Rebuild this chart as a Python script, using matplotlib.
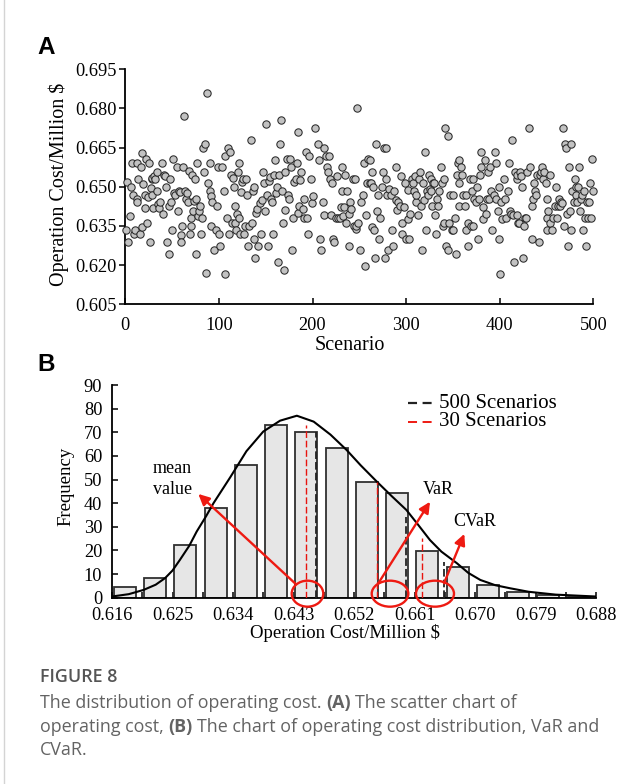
import matplotlib
matplotlib.use('Agg')
import matplotlib.pyplot as plt
from matplotlib.patches import Ellipse
from matplotlib.lines import Line2D

plt.rcParams['font.family'] = ['Liberation Serif', 'DejaVu Serif']
plt.rcParams['lines.scale_dashes'] = False

# ---------------- data: panel A (scenario vs operation cost) ----------------
scenario = [
    2, 6, 1, 3, 5, 7, 8, 9, 10, 12, 12, 13, 14, 16, 17, 18, 18, 19, 21, 21, 22, 23, 24, 25, 26, 27, 28, 28, 29, 30,
    31, 32, 34, 34, 35, 36, 37, 39, 40, 41, 42, 44, 45, 47, 47, 48, 49, 50, 51, 52, 53, 55, 56, 57, 58, 59, 60, 61,
    62, 63, 64, 65, 66, 67, 68, 69, 70, 70, 71, 72, 73, 74, 75, 76, 77, 78, 79, 80, 81, 82, 83, 84, 85, 86, 87, 88,
    90, 91, 92, 92, 93, 95, 97, 98, 99, 100, 101,
    103, 105, 106, 107, 109, 110, 111, 112, 113, 114, 115, 116, 117, 117, 118, 119, 120, 121, 122, 123, 124, 125,
    126, 127, 128, 129, 130, 131, 132, 134, 135, 136, 137, 138, 139, 140, 141, 142, 144, 145, 146, 147, 148, 149,
    150, 151, 152, 153, 155, 156, 157, 158, 159, 160, 161, 162, 163, 164, 165, 166, 167, 169, 170, 171, 171, 173,
    174, 175, 176, 177, 178, 179, 180, 182, 183, 184, 185, 186, 187, 188, 190, 191, 191, 193, 194, 195, 196, 198,
    199, 200, 203,
    206, 207, 208, 209, 211, 212, 212, 214, 216, 217, 218, 219, 220, 221, 222, 223, 225, 226, 227, 229, 230, 231,
    232, 233, 234, 235, 236, 237, 239, 239, 240, 241, 243, 244, 245, 246, 247, 248, 249, 251, 252, 254, 255, 256,
    257, 258, 259, 261, 261, 262, 264, 264, 265, 266, 267, 268, 269, 270, 271, 272, 274, 275, 276, 277, 279, 279,
    280, 281, 282, 284, 285, 286, 287, 289, 289, 290, 291, 293, 295, 296, 296, 298, 299, 300, 302, 302,
    303, 304, 306, 307, 308, 309, 311, 311, 313, 314, 315, 316, 317, 318, 319, 320, 321, 322, 323, 324, 325, 327,
    327, 328, 329, 330, 331, 332, 333, 334, 335, 337, 338, 339, 340, 341, 342, 343, 345, 345, 346, 347, 349, 350,
    350, 352, 353, 354, 355, 356, 357, 357, 359, 360, 361, 363, 364, 364, 366, 366, 368, 369, 370, 371, 372, 373,
    375, 376, 377, 378, 379, 380, 380, 382, 382, 384, 385, 386, 388, 389, 390, 391, 392, 394, 395, 396, 396, 398,
    399, 399, 400, 401, 402,
    405, 406, 407, 409, 410, 411, 412, 413, 414, 415, 416, 418, 419, 419, 420, 421, 422, 423, 424, 425, 426, 427,
    428, 429, 431, 432, 434, 435, 436, 437, 438, 439, 440, 442, 443, 444, 445, 446, 447, 449, 450, 451, 451, 452,
    454, 454, 456, 457, 459, 460, 461, 462, 463, 464, 465, 467, 468, 469, 470, 471, 472, 473, 474, 475, 476, 476,
    477, 479, 480, 481, 482, 483, 484, 485, 486, 487, 488, 489, 490, 491, 492, 493, 494, 495, 496, 498, 499, 500,
]
cost = [
    0.6517, 0.6500, 0.6334, 0.6290, 0.6390, 0.6590, 0.6470, 0.6320, 0.6334, 0.6590, 0.6455, 0.6440, 0.6530, 0.6320,
    0.6577, 0.6630, 0.6347, 0.6510, 0.6470, 0.6420, 0.6606, 0.6360, 0.6460, 0.6590, 0.6290, 0.6497, 0.6530, 0.6470,
    0.6535, 0.6420, 0.6540, 0.6530, 0.6557, 0.6485, 0.6434, 0.6420, 0.6443, 0.6590, 0.6395, 0.6545, 0.6540, 0.6500,
    0.6290, 0.6242, 0.6427, 0.6530, 0.6440, 0.6334, 0.6606, 0.6478, 0.6470, 0.6574, 0.6408, 0.6485, 0.6480, 0.6315,
    0.6290, 0.6348, 0.6574, 0.6770, 0.6485, 0.6453, 0.6478, 0.6440, 0.6561, 0.6320, 0.6348, 0.6380, 0.6545, 0.6408,
    0.6447, 0.6530, 0.6242, 0.6453, 0.6590, 0.6389, 0.6408, 0.6425, 0.6320, 0.6380, 0.6648, 0.6557, 0.6664, 0.6168,
    0.6861, 0.6514, 0.6590, 0.6485, 0.6348, 0.6465, 0.6440, 0.6257, 0.6334, 0.6427, 0.6574, 0.6320, 0.6274,
    0.6574, 0.6485, 0.6619, 0.6166, 0.6380, 0.6650, 0.6320, 0.6634, 0.6545, 0.6363, 0.6532, 0.6500, 0.6425, 0.6363,
    0.6335, 0.6395, 0.6557, 0.6380, 0.6590, 0.6320, 0.6480, 0.6517, 0.6530, 0.6320, 0.6348, 0.6530, 0.6470, 0.6272,
    0.6350, 0.6680, 0.6363, 0.6485, 0.6300, 0.6500, 0.6227, 0.6400, 0.6414, 0.6272, 0.6437, 0.6320, 0.6450, 0.6557,
    0.6514, 0.6408, 0.6739, 0.6470, 0.6272, 0.6523, 0.6536, 0.6453, 0.6440, 0.6320, 0.6545, 0.6603, 0.6478, 0.6500,
    0.6213, 0.6546, 0.6664, 0.6757, 0.6485, 0.6363, 0.6182, 0.6412, 0.6557, 0.6606, 0.6470, 0.6453, 0.6606, 0.6577,
    0.6259, 0.6380, 0.6517, 0.6530, 0.6590, 0.6710, 0.6400, 0.6427, 0.6527, 0.6557, 0.6414, 0.6453, 0.6380, 0.6634,
    0.6380, 0.6320, 0.6619, 0.6530, 0.6437, 0.6466, 0.6724,
    0.6663, 0.6603, 0.6300, 0.6259, 0.6440, 0.6647, 0.6391, 0.6619, 0.6574, 0.6557, 0.6619, 0.6530, 0.6391, 0.6513,
    0.6300, 0.6287, 0.6380, 0.6542, 0.6380, 0.6380, 0.6421, 0.6485, 0.6574, 0.6389, 0.6421, 0.6545, 0.6363, 0.6485,
    0.6274, 0.6395, 0.6440, 0.6414, 0.6530, 0.6350, 0.6530, 0.6338, 0.6348, 0.6800, 0.6363, 0.6257, 0.6440, 0.6468,
    0.6590, 0.6197, 0.6393, 0.6514, 0.6606, 0.6603, 0.6514, 0.6514, 0.6347, 0.6557, 0.6500, 0.6333, 0.6229, 0.6663,
    0.6408, 0.6469, 0.6300, 0.6380, 0.6500, 0.6557, 0.6650, 0.6229, 0.6530, 0.6650, 0.6470, 0.6259, 0.6491, 0.6470,
    0.6334, 0.6274, 0.6485, 0.6449, 0.6574, 0.6411, 0.6440, 0.6425, 0.6542, 0.6320, 0.6363, 0.6421, 0.6514, 0.6300,
    0.6489, 0.6376,
    0.6300, 0.6395, 0.6530, 0.6513, 0.6485, 0.6542, 0.6440, 0.6468, 0.6393, 0.6530, 0.6557, 0.6425, 0.6257, 0.6514,
    0.6450, 0.6634, 0.6333, 0.6485, 0.6468, 0.6545, 0.6491, 0.6530, 0.6485, 0.6425, 0.6514, 0.6514, 0.6393, 0.6320,
    0.6453, 0.6425, 0.6485, 0.6574, 0.6514, 0.6348, 0.6530, 0.6363, 0.6725, 0.6274, 0.6259, 0.6695, 0.6363, 0.6468,
    0.6334, 0.6468, 0.6334, 0.6380, 0.6242, 0.6545, 0.6590, 0.6425, 0.6514, 0.6603, 0.6574, 0.6545, 0.6470, 0.6425,
    0.6468, 0.6335, 0.6274, 0.6363, 0.6530, 0.6348, 0.6485, 0.6530, 0.6348, 0.6453, 0.6440, 0.6500, 0.6300, 0.6453,
    0.6545, 0.6574, 0.6634, 0.6376, 0.6424, 0.6603, 0.6395, 0.6453, 0.6557, 0.6453, 0.6574, 0.6485, 0.6334, 0.6468,
    0.6634, 0.6453, 0.6590, 0.6408, 0.6300, 0.6500, 0.6166, 0.6440, 0.6376,
    0.6530, 0.6453, 0.6380, 0.6485, 0.6590, 0.6408, 0.6395, 0.6680, 0.6393, 0.6213, 0.6557, 0.6530, 0.6393, 0.6545,
    0.6363, 0.6363, 0.6557, 0.6542, 0.6500, 0.6227, 0.6348, 0.6380, 0.6380, 0.6557, 0.6725, 0.6574, 0.6300, 0.6425,
    0.6453, 0.6514, 0.6485, 0.6468, 0.6545, 0.6287, 0.6545, 0.6557, 0.6574, 0.6530, 0.6557, 0.6514, 0.6453, 0.6380,
    0.6334, 0.6408, 0.6545, 0.6363, 0.6334, 0.6380, 0.6427, 0.6500, 0.6380, 0.6425, 0.6453, 0.6425, 0.6440, 0.6437,
    0.6724, 0.6348, 0.6663, 0.6650, 0.6395, 0.6274, 0.6574, 0.6408, 0.6334, 0.6663, 0.6485, 0.6440, 0.6530, 0.6500,
    0.6468, 0.6440, 0.6500, 0.6574, 0.6408, 0.6453, 0.6468, 0.6334, 0.6485, 0.6380, 0.6274, 0.6440, 0.6380, 0.6440,
    0.6514, 0.6380, 0.6606, 0.6485,
]
a_xticks = [0, 100, 200, 300, 400, 500]
a_yticks = [0.605, 0.620, 0.635, 0.650, 0.665, 0.680, 0.695]

# ---------------- data: panel B (histogram) ----------------
bin_centers = [0.6179, 0.6224, 0.6269, 0.6314, 0.6359, 0.6404, 0.6449, 0.6494,
               0.6539, 0.6584, 0.6629, 0.6674, 0.6719, 0.6764, 0.6809, 0.6854]
frequency = [4.5, 8.5, 22.5, 38, 56, 73, 70, 63.5, 49, 44.3, 19.8, 13, 5.3, 2.5, 1, 0.5]
curve_x = [0.6160, 0.6185, 0.6207, 0.6225, 0.6239, 0.6250, 0.6261, 0.6275, 0.6286, 0.6300,
           0.6311, 0.6336, 0.6360, 0.6385, 0.6410, 0.6435, 0.6460, 0.6485, 0.6509, 0.6530,
           0.6554, 0.6576, 0.6598, 0.6615, 0.6633, 0.6650, 0.6673, 0.6690, 0.6708, 0.6730,
           0.6752, 0.6780, 0.6820, 0.6880]
curve_y = [0.5, 1.5, 3.3, 5.5, 8.3, 11.5, 16.0, 22.0, 28.0, 34.5,
           40.0, 51.0, 62.0, 70.3, 74.9, 77.0, 74.5, 69.0, 62.5, 56.0,
           49.1, 43.0, 37.1, 31.0, 24.4, 19.5, 14.6, 10.5, 7.5, 5.3,
           4.0, 2.5, 1.3, 0.5]
b_xticks = [0.616, 0.625, 0.634, 0.643, 0.652, 0.661, 0.670, 0.679, 0.688]
b_xminor = [0.6205, 0.6295, 0.6385, 0.6475, 0.6565, 0.6655, 0.6745, 0.6835]
b_yticks = [0, 10, 20, 30, 40, 50, 60, 70, 80, 90]
# dashed markers: mean, VaR, CVaR
red_x = [0.64486, 0.65547, 0.66207]
red_top = [72.9, 49.0, 25.1]
black_x = [0.64632, 0.65974, 0.66544]
black_top = [70.2, 34.3, 15.2]

# ---------------- figure ----------------
W, H = 639, 784
fig = plt.figure(figsize=(W / 100, H / 100), dpi=100)
fig.patch.set_facecolor('white')


def fx(x):
    return x / W


def fy(y):
    return 1 - y / H


# left border line
fig.add_artist(Line2D([fx(3.5), fx(3.5)], [0, 1], color='#d4d4d4', lw=1.0))

TICK = 13.2
# ---- panel A ----
axA = fig.add_axes([fx(125.3), fy(304.3), (593.3 - 125.3) / W, (304.3 - 69.3) / H])
axA.scatter(scenario, cost, s=28, c='#c2c2c2', edgecolors='#2a2a2a', linewidths=0.75,
            zorder=3, clip_on=False)
axA.set_xlim(0, 500)
axA.set_ylim(0.605, 0.695)
axA.set_xticks(a_xticks)
axA.set_yticks(a_yticks)
axA.set_yticklabels([f'{v:.3f}' for v in a_yticks])
for s in ('top', 'right'):
    axA.spines[s].set_visible(False)
for s in ('left', 'bottom'):
    axA.spines[s].set_linewidth(1.3)
axA.tick_params(axis='both', length=4.5, width=1.1, labelsize=TICK)
axA.tick_params(axis='x', direction='in', pad=9.5)
axA.tick_params(axis='y', direction='out', pad=1.5)
axA.set_ylabel('Operation Cost/Million $', fontsize=14.5, va='center')
axA.yaxis.set_label_coords((59 - 125.3) / 468, 0.51)
axA.set_xlabel('Scenario', fontsize=14.5, va='center')
axA.xaxis.set_label_coords((350 - 125.3) / 468, (304.3 - 345.5) / 235)

# ---- panel B ----
bx0, bx1, by0, by1 = 112.0, 596.0, 597.7, 385.0
axB = fig.add_axes([fx(bx0), fy(by0), (bx1 - bx0) / W, (by0 - by1) / H])
axB.bar(bin_centers, frequency, width=0.00327, color='#e6e6e6', edgecolor='#303030',
        linewidth=1.3, zorder=2)
axB.plot(curve_x, curve_y, color='black', lw=1.5, zorder=4)
for x, t in zip(red_x, red_top):
    axB.plot([x, x], [0, t], color='#e8140f', lw=1.0, dashes=(4.8, 2.0), zorder=5)
for x, t in zip(black_x, black_top):
    axB.plot([x, x], [0, t], color='#222222', lw=1.3, dashes=(5.5, 2.2), zorder=5)
axB.set_xlim(0.616, 0.688)
axB.set_ylim(0, 90)
axB.set_xticks(b_xticks)
axB.set_xticklabels([f'{v:.3f}' for v in b_xticks])
axB.set_xticks(b_xminor, minor=True)
axB.set_yticks(b_yticks)
for s in ('top', 'right'):
    axB.spines[s].set_visible(False)
for s in ('left', 'bottom'):
    axB.spines[s].set_linewidth(1.3)
axB.tick_params(axis='both', which='both', direction='in', length=4, width=1.1, labelsize=TICK)
axB.tick_params(axis='x', pad=7)
axB.tick_params(axis='y', pad=7)
axB.set_ylabel('Frequency', fontsize=13.5, va='center')
axB.yaxis.set_label_coords((65.6 - bx0) / (bx1 - bx0), 0.522)
axB.set_xlabel('Operation Cost/Million $', fontsize=13.5, va='center')
axB.xaxis.set_label_coords((345 - bx0) / (bx1 - bx0), (by0 - 633.0) / (by0 - by1))

RED = '#ee1a12'
# ellipses
for cx, w in [(0.64508, 0.0047), (0.65736, 0.00545), (0.66405, 0.00565)]:
    axB.add_patch(Ellipse((cx, 1.7), w, 11.0, fill=False, edgecolor=RED, lw=1.7,
                          clip_on=False, zorder=6))
# arrows
arrows = [((0.64322, 6.1), (0.62884, 43.9)),
          ((0.65562, 6.1), (0.66331, 40.6)),
          ((0.66539, 6.1), (0.66841, 27.0))]
for (sx, sy), (ex, ey) in arrows:
    axB.annotate('', xy=(ex, ey), xytext=(sx, sy),
                 arrowprops=dict(arrowstyle='-|>,head_length=0.65,head_width=0.32',
                                 mutation_scale=10, color=RED, lw=1.7,
                                 shrinkA=0, shrinkB=0), zorder=7)
ANN = 13
axB.text(0.62205, 54.8, 'mean', fontsize=ANN, ha='left', va='center')
axB.text(0.62205, 45.6, 'value', fontsize=ANN, ha='left', va='center')
axB.text(0.66222, 45.6, 'VaR', fontsize=ANN, ha='left', va='center')
axB.text(0.66677, 32.2, 'CVaR', fontsize=ANN, ha='left', va='center')

# legend (hand placed)
fig.add_artist(Line2D([fx(408), fx(433)], [fy(403.3), fy(403.3)], color='#222222', lw=1.6,
                      dashes=(6.5, 4.0)))
fig.add_artist(Line2D([fx(408), fx(433)], [fy(421.7), fy(421.7)], color=RED, lw=1.4,
                      dashes=(6.5, 4.0)))
fig.text(fx(439.3), fy(403.3), '500 Scenarios', fontsize=15, ha='left', va='center')
fig.text(fx(439.3), fy(421.7), '30 Scenarios', fontsize=15, ha='left', va='center')

# panel letters
fig.text(fx(46.5), fy(47.5), 'A', fontsize=17.5, fontweight='bold', family='Liberation Sans',
         ha='center', va='center')
fig.text(fx(46.5), fy(364.5), 'B', fontsize=17.5, fontweight='bold', family='Liberation Sans',
         ha='center', va='center')

# caption
CAP = 'Open Sans'
CCOL = '#636363'
CSIZE = 12.9
renderer = fig.canvas.get_renderer()


def text_w(s, weight):
    t = fig.text(0, 0, s, fontsize=CSIZE, family=CAP, fontweight=weight)
    w = t.get_window_extent(renderer=renderer).width
    t.remove()
    return w


space_w = text_w('a a', 'normal') - text_w('aa', 'normal')


def runs_line(x, y, runs):
    for txt, wt in runs:
        if txt == ' ':
            x += space_w
            continue
        t = fig.text(fx(x), fy(y), txt, fontsize=CSIZE, family=CAP, fontweight=wt,
                     color=CCOL, ha='left', va='baseline')
        x += t.get_window_extent(renderer=renderer).width


fig.text(fx(40), fy(681.7), 'FIGURE 8', fontsize=CSIZE, family=CAP, fontweight='semibold',
         color='#555555', ha='left', va='baseline')
runs_line(40, 708.3, [('The distribution of operating cost.', 'normal'), (' ', None),
                      ('(A)', 'bold'), (' ', None), ('The scatter chart of', 'normal')])
runs_line(40, 731.7, [('operating cost,', 'normal'), (' ', None), ('(B)', 'bold'), (' ', None),
                      ('The chart of operating cost distribution, VaR and', 'normal')])
runs_line(40, 755.0, [('CVaR.', 'normal')])

fig.savefig('out.png', dpi=100)
